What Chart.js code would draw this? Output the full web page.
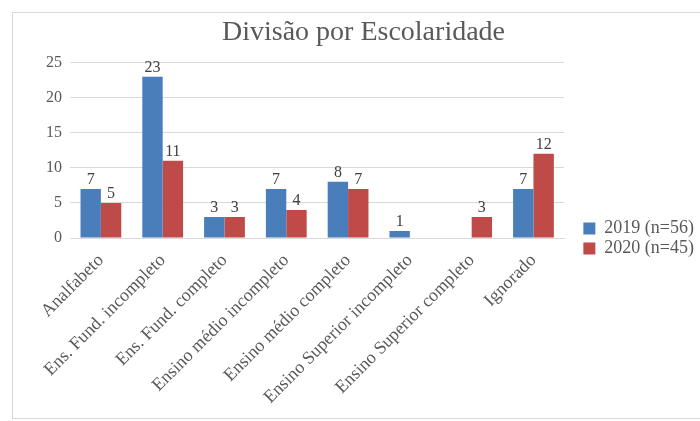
<!DOCTYPE html>
<html lang="pt">
<head>
<meta charset="utf-8">
<title>Divisão por Escolaridade</title>
<script src="https://cdn.jsdelivr.net/npm/chart.js@4"></script>
<style>
    body { margin: 0; background: #fff; overflow: hidden; }
    #moldura {
        position: absolute;
        left: 12px; top: 12px;
        width: 720px; height: 405px;
        border: 1px solid #d9d9d9;
    }
    #grafico { position: absolute; left: 0; top: 0; }
</style>
</head>
<body>
<div id="moldura"></div>
<canvas id="grafico" width="700" height="421"></canvas>
<script>
// dados
const categorias = [
    'Analfabeto',
    'Ens. Fund. incompleto',
    'Ens. Fund. completo',
    'Ensino médio incompleto',
    'Ensino médio completo',
    'Ensino Superior incompleto',
    'Ensino Superior completo',
    'Ignorado'
];
const valores2019 = [7, 23, 3, 7, 8, 1, 0, 7];
const valores2020 = [5, 11, 3, 4, 7, 0, 3, 12];
const series = ['2019 (n=56)', '2020 (n=45)'];
const yMax = 25;
const yPasso = 5;

const FONTE = "'Liberation Serif', 'DejaVu Serif', serif";
const CINZA = '#595959';

// rotulos com o valor em cima de cada barra
const rotulosBarras = {
    id: 'rotulosBarras',
    afterDatasetsDraw(chart) {
        const ctx = chart.ctx;
        ctx.save();
        ctx.font = '16px ' + FONTE;
        ctx.fillStyle = '#404040';
        ctx.textAlign = 'center';
        ctx.textBaseline = 'bottom';
        chart.data.datasets.forEach(function (ds, i) {
            chart.getDatasetMeta(i).data.forEach(function (bar, j) {
                if (ds.data[j] > 0) {
                    ctx.fillText(ds.data[j], bar.x, bar.y - 1);
                }
            });
        });
        ctx.restore();
    }
};

// empurra a legenda para a direita e para baixo
const deslocaLegenda = {
    id: 'deslocaLegenda',
    afterLayout(chart) {
        const dx = 17, dy = 20;
        chart.legend.left += dx;
        chart.legend.right += dx;
        chart.legend.top += dy;
        chart.legend.bottom += dy;
    }
};

new Chart(document.getElementById('grafico'), {
    type: 'bar',
    data: {
        labels: categorias,
        datasets: [
            {
                label: series[0],
                data: valores2019,
                backgroundColor: '#4a7ebb',
                categoryPercentage: 0.66,
                barPercentage: 1.0
            },
            {
                label: series[1],
                data: valores2020,
                backgroundColor: '#be4b48',
                categoryPercentage: 0.66,
                barPercentage: 1.0
            }
        ]
    },
    options: {
        responsive: false,
        animation: false,
        layout: {
            padding: { left: 40, right: 13, top: 16, bottom: 0 }
        },
        scales: {
            x: {
                grid: { display: false, drawTicks: false },
                border: { color: '#d9d9d9' },
                ticks: {
                    color: CINZA,
                    font: { family: FONTE, size: 18 },
                    minRotation: 45,
                    maxRotation: 45,
                    autoSkip: false,
                    padding: 12
                },
                afterFit(scale) { scale.height = 183; }
            },
            y: {
                min: 0,
                max: yMax,
                grid: { color: '#d9d9d9', drawTicks: false },
                border: { display: false },
                ticks: {
                    stepSize: yPasso,
                    color: CINZA,
                    font: { family: FONTE, size: 16 },
                    padding: 8
                },
                afterFit(scale) { scale.width = 30; }
            }
        },
        plugins: {
            title: {
                display: true,
                text: 'Divisão por Escolaridade',
                color: CINZA,
                font: { family: FONTE, size: 28, weight: 'normal' },
                padding: { top: 0, bottom: 13 }
            },
            legend: {
                position: 'right',
                labels: {
                    color: CINZA,
                    font: { family: FONTE, size: 18 },
                    boxWidth: 12,
                    boxHeight: 12,
                    padding: 2
                }
            },
            tooltip: { enabled: false }
        }
    },
    plugins: [rotulosBarras, deslocaLegenda]
});
</script>
</body>
</html>
